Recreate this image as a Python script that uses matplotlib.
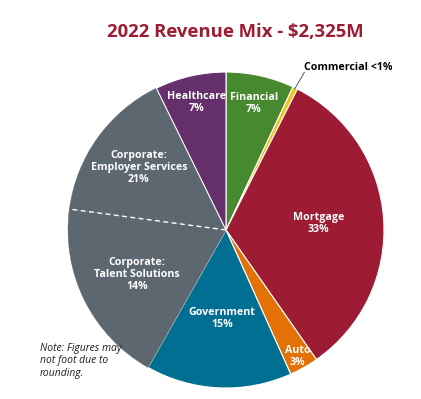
import numpy as np
import matplotlib
matplotlib.use("Agg")
import matplotlib.pyplot as plt
from matplotlib import font_manager as fm

# ---- data ----
segments = ["Financial", "Commercial", "Mortgage", "Auto", "Government",
            "Corporate: Talent Solutions", "Corporate: Employer Services", "Healthcare"]
# wedge sizes as drawn in the reference (share of the circle)
sizes = [7, 0.5, 33, 3, 15, 19, 15.7, 7.3]
labels = ["Financial\n7%", "", "Mortgage\n33%", "Auto\n3%", "Government\n15%",
          "Corporate:\nTalent Solutions\n14%", "Corporate:\nEmployer Services\n21%",
          "Healthcare\n7%"]
outside_label = "Commercial <1%"
title = "2022 Revenue Mix - $2,325M"
note = "Note: Figures may\nnot foot due to\nrounding."

colors = ["#47892f", "#f0c419", "#9d1c33", "#e37105", "#016f92",
          "#5d6770", "#5d6770", "#642f6b"]
label_dist = [0.82, 0, 0.585, 0.92, 0.56, 0.63, 0.68, 0.83]


def font_file(fname_target, fallback_family, weight="normal", style="normal"):
    for f in fm.fontManager.ttflist:
        if f.fname.split("/")[-1] == fname_target:
            return fm.FontProperties(fname=f.fname)
    return fm.FontProperties(family=fallback_family, weight=weight, style=style)


fp_bold = font_file("OpenSans-Bold.ttf", "DejaVu Sans", weight="bold")
fp_ital = font_file("OpenSans-Italic.ttf", "DejaVu Sans", style="italic")

W, H = 421, 399
fig = plt.figure(figsize=(W / 100, H / 100), dpi=100)
ax = fig.add_axes([0, 0, 1, 1])

R = 158.0
cx, cy = 226.0, 230.0

wedges, _ = ax.pie(sizes, colors=colors, startangle=90, counterclock=False,
                   radius=1.0,
                   wedgeprops=dict(edgecolor="white", linewidth=0.8))

# corporate pieces share one colour: hide the edge between them, draw dashed
for i in (5, 6):
    wedges[i].set_edgecolor(colors[i])
    wedges[i].set_linewidth(0.3)

b = np.deg2rad(wedges[5].theta1)
ax.plot([0, np.cos(b)], [0, np.sin(b)], color="white", lw=1.0,
        ls=(0, (3.5, 2.5)), zorder=5)

for w, lab, d in zip(wedges, labels, label_dist):
    if not lab:
        continue
    m = np.deg2rad((w.theta1 + w.theta2) / 2)
    t = ax.text(d * np.cos(m), d * np.sin(m), lab, ha="center", va="center",
                color="white", fontproperties=fp_bold, linespacing=1.15,
                zorder=6)
    t.set_fontsize(7.7)

# commercial leader
w = wedges[1]
m = np.deg2rad((w.theta1 + w.theta2) / 2)
p0 = np.array([np.cos(m), np.sin(m)]) * 0.995
p1 = np.array([np.cos(m), np.sin(m)]) * 1.11 + np.array([0.01, 0.0])
ax.plot([p0[0], p1[0]], [p0[1], p1[1]], color="#555555", lw=0.7, zorder=6)
t = ax.text(p1[0] - 0.005, p1[1] - 0.005, outside_label, ha="left", va="bottom",
            fontproperties=fp_bold, color="black")
t.set_fontsize(7.7)

ax.set_xlim(-cx / R, (W - cx) / R)
ax.set_ylim(-(H - cy) / R, cy / R)
ax.set_aspect("auto")
ax.axis("off")

t = fig.text(235 / W, 1 - 32 / H, title, ha="center", va="center",
             fontproperties=fp_bold, color="#9d1c33")
t.set_fontsize(13.3)
t = fig.text(40 / W, 1 - 343 / H, note, ha="left", va="top",
             fontproperties=fp_ital, color="#222222", linespacing=1.17)
t.set_fontsize(7.5)

fig.savefig("out.png", dpi=100)
